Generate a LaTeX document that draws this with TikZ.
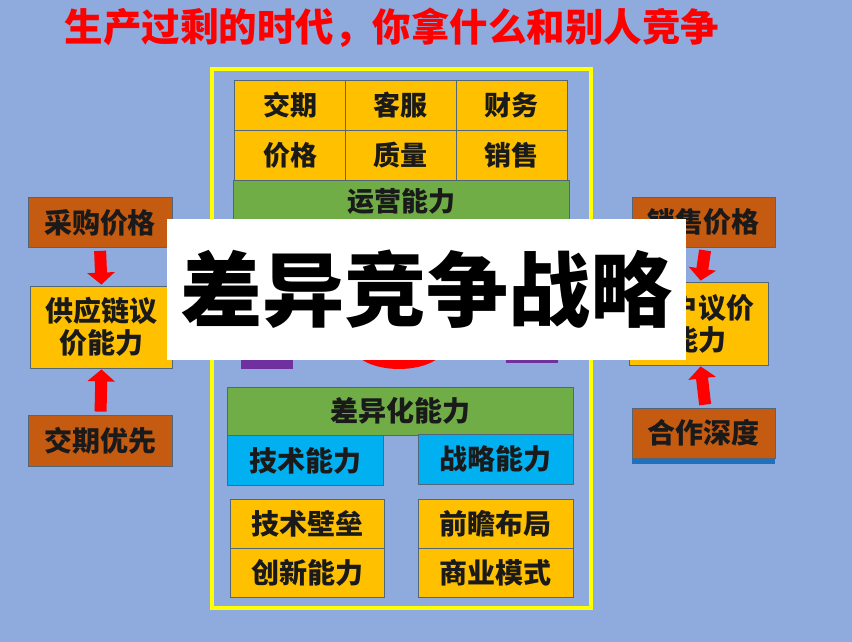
\documentclass[tikz,border=0pt]{standalone}
\usepackage{fontspec}
\usepackage[HTML]{xcolor}
\usetikzlibrary{arrows.meta}
\newfontfamily\cjk{Noto Sans CJK SC}
\definecolor{bgblue}{HTML}{8FAADC}
\definecolor{cellorange}{HTML}{FFC000}
\definecolor{cellbrown}{HTML}{C55A11}
\definecolor{cellgreen}{HTML}{70AD47}
\definecolor{cellblue}{HTML}{00B0F0}
\definecolor{cellpurple}{HTML}{7030A0}
\definecolor{edgegray}{HTML}{52667A}
\definecolor{stripblue}{HTML}{2070C0}

\begin{document}
\begin{tikzpicture}[x=1pt, y=-1pt,
  box/.style={draw=edgegray, line width=0.8pt, inner sep=0pt, align=center, text=black!90, font=\cjk\bfseries\fontsize{27}{32}\selectfont},
  cell/.style={box, fill=cellorange, minimum width=111pt, minimum height=50pt},
  side/.style={box, fill=cellbrown, minimum width=144pt, minimum height=50pt, font=\cjk\bfseries\fontsize{28}{32}\selectfont},
  core/.style={box, fill=cellorange, minimum width=142pt, minimum height=82pt, font=\cjk\bfseries\fontsize{28}{32}\selectfont},
  bar/.style={box, fill=cellgreen},
  skill/.style={box, fill=cellblue, minimum width=156pt, minimum height=50pt, font=\cjk\bfseries\fontsize{28}{32}\selectfont},
  item/.style={box, fill=cellorange, minimum width=154pt, minimum height=49pt, font=\cjk\bfseries\fontsize{28}{32}\selectfont},
  push/.style={draw=red, line width=12pt, -{Triangle[width=27pt, length=12pt]}, shorten <=3pt, shorten >=1pt}]

% --- background ---
\fill[bgblue] (0,0) rectangle (852,642);
\useasboundingbox (0,0) rectangle (852,642);

\node[text=red, font=\cjk\bfseries\fontsize{38.5}{40}\selectfont] (title) at (392, 28) {生产过剩的时代，你拿什么和别人竞争};

% --- centre frame ---
\draw[yellow, line width=3.5pt] (212, 69) rectangle (591, 608);

% --- shapes behind the banner ---
\fill[cellpurple] (241, 300) rectangle (293, 369);
\fill[cellpurple] (506, 300) rectangle (558, 363);
\fill[red] (399, 346) ellipse (46 and 23);

% --- operating cells ---
\node[cell] (jq) at (290, 105) {交期};
\node[cell] (kf) at (400.5, 105) {客服};
\node[cell] (cw) at (511.5, 105) {财务};
\node[cell] (jg) at (290, 155) {价格};
\node[cell] (zl) at (400.5, 155) {质量};
\node[cell] (xs) at (511.5, 155) {销售};
\node[bar, minimum width=336pt, minimum height=42pt] (yy) at (401, 201) {运营能力};

% --- differentiation ---
\node[bar, minimum width=346pt, minimum height=48pt, font=\cjk\bfseries\fontsize{28}{32}\selectfont] (cy) at (400, 411) {差异化能力};
\node[skill] (js) at (305.5, 460.5) {技术能力};
\node[skill, minimum width=155pt] (zlnl) at (495.5, 459) {战略能力};
\node[item] (bl) at (307, 524) {技术壁垒};
\node[item] (cx) at (307, 573) {创新能力};
\node[item, minimum width=155pt] (qz) at (495.5, 524) {前瞻布局};
\node[item, minimum width=155pt] (sy) at (495.5, 573) {商业模式};

% --- left column ---
\node[side] (cg) at (100, 222.5) {采购价格};
\node[core] (gy) at (101.5, 327) {供应链议\\价能力};
\node[side, minimum height=51pt] (jqyx) at (100.5, 440.5) {交期优先};
\draw[push] (cg.south) -- (gy.north);
\draw[push] (jqyx.north) -- (gy.south);

% --- right column ---
\node[side, minimum width=143pt] (xsjg) at (703.5, 222) {销售价格};
\node[core, minimum width=139pt, minimum height=83pt] (kh) at (698.5, 323.5) {客户议价\\能力};
\fill[stripblue] (632, 458) rectangle (775, 464);
\node[side, minimum width=143pt] (hz) at (703.5, 433) {合作深度};
\draw[push] ([xshift=2pt]xsjg.south) -- ([xshift=2pt]kh.north);
\draw[push] ([xshift=2pt]hz.north) -- ([xshift=2pt]kh.south);

% --- banner ---
\node[fill=white, minimum width=519pt, minimum height=141pt, inner sep=0pt, font=\cjk\bfseries\fontsize{82}{82}\selectfont] (banner) at (426.5, 289.5) {差异竞争战略};
\end{tikzpicture}
\end{document}
